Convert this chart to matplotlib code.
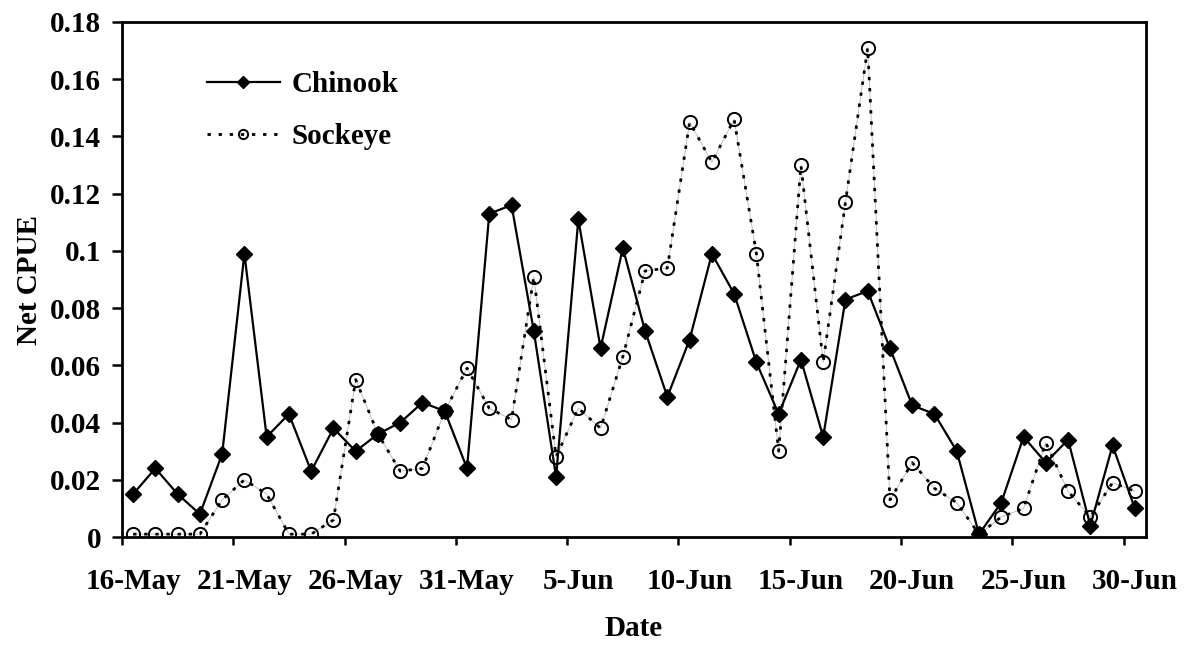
import matplotlib
matplotlib.use("Agg")
import matplotlib.pyplot as plt
import numpy as np

plt.rcParams["font.family"] = ["Liberation Serif", "DejaVu Serif"]
plt.rcParams["font.weight"] = "bold"

# daily net CPUE, 16-May .. 30-Jun
chinook = [
    0.015, 0.024, 0.015, 0.008, 0.029, 0.099, 0.035, 0.043, 0.023, 0.038,
    0.030, 0.036, 0.040, 0.047, 0.044, 0.024,
    0.113, 0.116, 0.072, 0.021, 0.111, 0.066, 0.101, 0.072, 0.049, 0.069,
    0.099, 0.085, 0.061, 0.043, 0.062, 0.035, 0.083, 0.086, 0.066, 0.046,
    0.043, 0.030, 0.001, 0.012, 0.035, 0.026, 0.034, 0.004, 0.032, 0.010,
]
sockeye = [
    0.001, 0.001, 0.001, 0.001, 0.013, 0.020, 0.015, 0.001, 0.001, 0.006,
    0.055, 0.036, 0.023, 0.024, 0.044, 0.059,
    0.045, 0.041, 0.091, 0.028, 0.045, 0.038, 0.063, 0.093, 0.094, 0.145,
    0.131, 0.146, 0.099, 0.030, 0.130, 0.061, 0.117, 0.171, 0.013, 0.026,
    0.017, 0.012, 0.001, 0.007, 0.010, 0.033, 0.016, 0.007, 0.019, 0.016,
]
date_labels = ["16-May", "21-May", "26-May", "31-May", "5-Jun",
               "10-Jun", "15-Jun", "20-Jun", "25-Jun", "30-Jun"]
y_ticks = [0, 0.02, 0.04, 0.06, 0.08, 0.1, 0.12, 0.14, 0.16, 0.18]

day = np.arange(len(chinook))

fig = plt.figure(figsize=(11.9, 6.47), dpi=100)
ax = fig.add_axes([0.1025, 0.170, 0.8605, 0.796])

ax.plot(day, chinook, "-", color="black", linewidth=1.6,
        marker="D", markersize=8.5, markerfacecolor="black",
        markeredgecolor="black", label="Chinook", zorder=3)

# faint connecting trace under the dotted sockeye line
ax.plot(day, sockeye, "-", color="#b8b8b8", linewidth=0.6, zorder=2)
ax.plot(day, sockeye, color="black", linewidth=2.0,
        linestyle=(0, (1.2, 2.8)),
        marker="o", markersize=9.5, markerfacecolor="none",
        markeredgecolor="black", markeredgewidth=1.4,
        label="Sockeye", zorder=4)

ax.set_xlim(-0.5, len(chinook) - 0.5)
ax.set_ylim(0, 0.18)

# ticks sit between categories, labels on every 5th day
ax.set_xticks(np.arange(-0.5, len(chinook) - 1, 5))
ax.set_xticklabels([])
ax.set_xticks(np.arange(0, len(chinook), 5), minor=True)
ax.set_xticklabels(date_labels, minor=True)
ax.tick_params(axis="x", which="major", direction="out", length=6, width=1.8)
ax.tick_params(axis="x", which="minor", length=0, pad=22, labelsize=21)

ax.set_yticks(y_ticks)
ax.set_yticklabels([f"{v:g}" for v in y_ticks])
ax.tick_params(axis="y", direction="out", length=7, width=1.8, pad=8,
               labelsize=21)

for s in ax.spines.values():
    s.set_linewidth(2.0)

ax.set_xlabel("Date", fontsize=21, fontweight="bold", labelpad=15)
ax.set_ylabel("Net CPUE", fontsize=21, fontweight="bold", labelpad=5)

ax.legend(loc="upper left", bbox_to_anchor=(0.083, 0.905), frameon=False,
          fontsize=21, handlelength=2.5, handletextpad=0.4,
          labelspacing=0.85, borderpad=0, borderaxespad=0, markerscale=0.7)

fig.savefig("out.png", dpi=100)
